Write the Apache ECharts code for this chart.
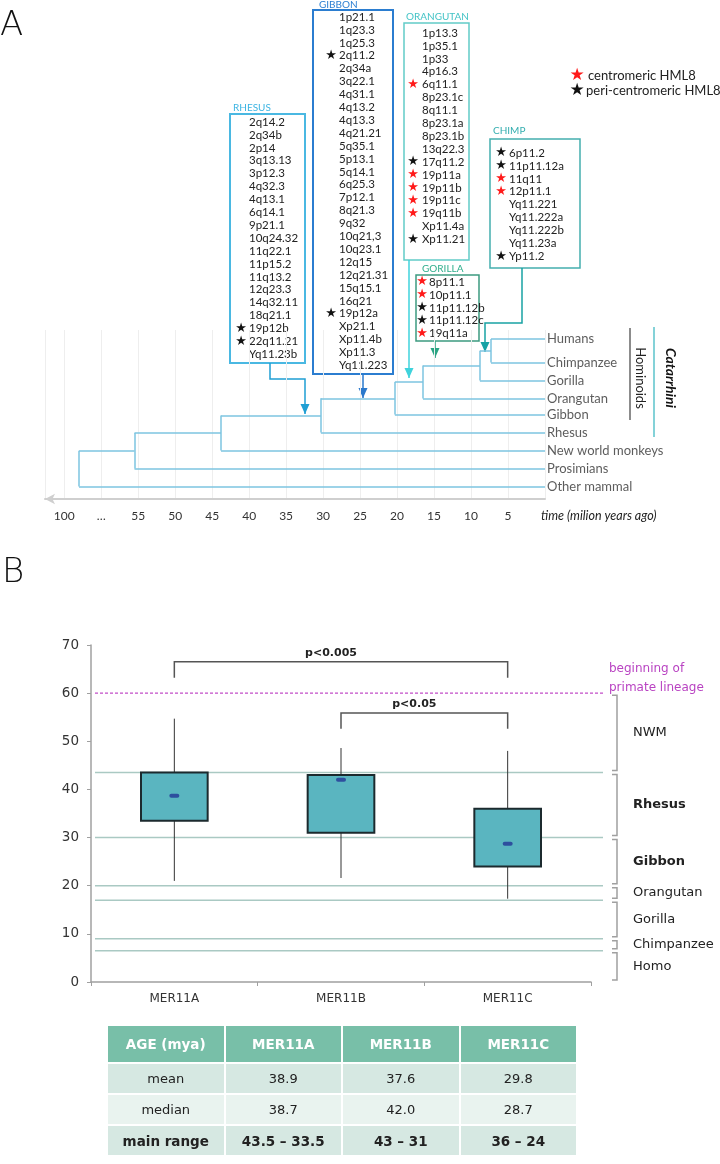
<!DOCTYPE html>
<html>
<head>
<meta charset="utf-8">
<title>HML8 insertion age</title>
<script src="https://cdn.jsdelivr.net/npm/echarts@6/dist/echarts.min.js"></script>
<style>
body{margin:0;background:#fff;}
#wrap{position:relative;width:720px;height:1164px;}
#chart{width:720px;height:1164px;}
table{
position:absolute;left:106px;top:1024px;width:472px;
border-collapse:collapse;table-layout:fixed;
font-family:"DejaVu Sans",sans-serif;font-size:13px;color:#222;
}
td,th{border:2px solid #fff;text-align:center;padding:0;}
th{background:#78bfa8;color:#fff;height:36px;font-weight:bold;font-size:13.5px;}
tr.a td{background:#d6e8e2;height:29px;}
tr.b td{background:#e9f3ef;height:29px;}
tr.bold td{font-weight:bold;font-size:13.5px;}
</style>
</head>
<body>
<div id="wrap">
<div id="chart"></div>
<table id="ages"></table>
</div>
<script>

// panel A: tree
const leaves=['Humans','Chimpanzee','Gorilla','Orangutan','Gibbon','Rhesus','New world monkeys','Prosimians','Other mammal']
const leafRow=[0.5,1.8,2.8,3.8,4.7,5.7,6.7,7.7,8.7]
const joinTime=[7.3,8.8,16.5,20.3,30.3,43.8,55.5,63]
const timeLabels={60:'…',65:'100'}

const lociRhesus=['2q14.2','2q34b','2p14','3q13.13','3p12.3','4q32.3','4q13.1','6q14.1','9p21.1','10q24.32','11q22.1','11p15.2','11q13.2','12q23.3','14q32.11','18q21.1','19p12b','22q11.21','Yq11.23b']
const lociGibbon=['1p21.1','1q23.3','1q25.3','2q11.2','2q34a','3q22.1','4q31.1','4q13.2','4q13.3','4q21.21','5q35.1','5p13.1','5q14.1','6q25.3','7p12.1','8q21.3','9q32','10q21,3','10q23.1','12q15','12q21.31','15q15.1','16q21','19p12a','Xp21.1','Xp11.4b','Xp11.3','Yq11.223']
const lociOrangutan=['1p13.3','1p35.1','1p33','4p16.3','6q11.1','8p23.1c','8q11.1','8p23.1a','8p23.1b','13q22.3','17q11.2','19p11a','19p11b','19p11c','19q11b','Xp11.4a','Xp11.21']
const lociChimp=['6p11.2','11p11.12a','11q11','12p11.1','Yq11.221','Yq11.222a','Yq11.222b','Yq11.23a','Yp11.2']
const lociGorilla=['8p11.1','10p11.1','11p11.12b','11p11.12c','19q11a']
const redStars=['6q11.1','19p11a','19p11b','19p11c','19q11b','11q11','12p11.1','8p11.1','10p11.1','19q11a']
const blackStars=['2q11.2','19p12a','19p12b','22q11.21','17q11.2','Xp11.21','6p11.2','11p11.12a','Yp11.2','11p11.12b','11p11.12c']

// panel B: box plot
const groups=['MER11A','MER11B','MER11C']
const whiskerLow=[21.0,21.6,17.3]
const boxLow=[33.5,31,24]
const medians=[38.7,42.0,28.7]
const boxHigh=[43.5,43,36]
const whiskerHigh=[54.7,48.6,48.0]
const means=[38.9,37.6,29.8]
const rangeNames=['NWM','Rhesus','Gibbon','Orangutan','Gorilla','Chimpanzee','Homo']
const rangeTop=[60,43.5,30,20,17,9,6.5]
const rangeBottom=[43.5,30,20,17,9,6.5,0]
const boldRanges=['Rhesus','Gibbon']
const primateStart=60
const sigFrom=[0,1]
const sigTo=[2,2]
const sigLeg=[63.2,52.6]
const sigTop=[66.5,55.9]
const sigLabel=['p<0.005','p<0.05']

// tree segments
const segs=[]
let cladeY=leafRow[0]
let prevT=0
segs.push([[0,leafRow[0]],[joinTime[0],leafRow[0]]])
for(let k=0;k<joinTime.length;k++){
const t=joinTime[k],y=leafRow[k+1]
if(k>0)segs.push([[prevT,cladeY],[t,cladeY]])
segs.push([[0,y],[t,y]])
segs.push([[t,cladeY],[t,y]])
prevT=t
cladeY=(cladeY+y)/2
}

const boxes=[
{title:'RHESUS',loci:lociRhesus,color:'#3db5e3',line:'#4ab8e2',lw:2,rect:[230,114,75,249],titleAt:[233,108],textX:249,starX:241,y0:122},
{title:'GIBBON',loci:lociGibbon,color:'#2b7fd2',line:'#2b7dd0',lw:2,rect:[313,10,80,364],titleAt:[319,5],textX:339,starX:331,y0:17},
{title:'ORANGUTAN',loci:lociOrangutan,color:'#43c3c6',line:'#62cbc8',lw:1.5,rect:[404,23,65,237],titleAt:[406,17],textX:422,starX:413,y0:33},
{title:'CHIMP',loci:lociChimp,color:'#35aeb0',line:'#44afae',lw:1.5,rect:[490,139,90,129],titleAt:[493,131],textX:509,starX:501,y0:153},
{title:'GORILLA',loci:lociGorilla,color:'#2fae8c',line:'#3d9a80',lw:1.5,rect:[416,275,63,66],titleAt:[422,269],textX:429,starX:422,y0:282}
]

const arrows=[
{pts:[[270,363],[270,379],[305,379],[305,414]],color:'#1f9fd4'},
{pts:[[363,374],[363,398]],color:'#2a78cc'},
{pts:[[409,260],[409,378]],color:'#3fd3dc'},
{pts:[[435,341],[435,358]],color:'#2aa483'},
{pts:[[522,268],[522,323],[485,323],[485,352]],color:'#18a2a4'}
]

const graphics=[]

function txt(x,y,text,font,fill,align,extra){
const el={type:'text',x:x,y:y,style:{text:text,font:font,fill:fill||'#222',textAlign:align||'left',textVerticalAlign:'middle'}}
return Object.assign(el,extra||{})
}

graphics.push(txt(0,26,'A','200 34px "DejaVu Sans"','#111'))
graphics.push(txt(2,573,'B','200 34px "DejaVu Sans"','#111'))

for(const b of boxes){
graphics.push({type:'rect',shape:{x:b.rect[0],y:b.rect[1],width:b.rect[2],height:b.rect[3]},style:{fill:'transparent',stroke:b.line,lineWidth:b.lw}})
graphics.push(txt(b.titleAt[0],b.titleAt[1],b.title,'10px Lato',b.color))
b.loci.forEach((l,i)=>{
const y=b.y0+i*12.9
graphics.push(txt(b.textX,y,l,'11.5px Lato','#222'))
if(redStars.includes(l))graphics.push(txt(b.starX,y,'★','13px "DejaVu Sans"','#ff1a1a','center'))
if(blackStars.includes(l))graphics.push(txt(b.starX,y,'★','13px "DejaVu Sans"','#111','center'))
})
}

for(const a of arrows){
graphics.push({type:'polyline',shape:{points:a.pts},style:{stroke:a.color,lineWidth:1.5,fill:null}})
const tip=a.pts[a.pts.length-1]
graphics.push({type:'polygon',shape:{points:[[tip[0]-4.5,tip[1]-10],[tip[0]+4.5,tip[1]-10],[tip[0],tip[1]]]},style:{fill:a.color}})
}

graphics.push(txt(577,76,'★','17px "DejaVu Sans"','#ff1a1a','center'))
graphics.push(txt(588,76,'centromeric HML8','13px Lato','#222'))
graphics.push(txt(577,91,'★','17px "DejaVu Sans"','#111','center'))
graphics.push(txt(586,91,'peri-centromeric HML8','13px Lato','#222'))

graphics.push({type:'line',shape:{x1:630,y1:328,x2:630,y2:420},style:{stroke:'#666',lineWidth:1.5}})
graphics.push({type:'line',shape:{x1:654,y1:327,x2:654,y2:437},style:{stroke:'#5bc3cb',lineWidth:1.5}})
graphics.push(txt(640,378,'Hominoids','13px Lato','#222','center',{rotation:-Math.PI/2}))
graphics.push(txt(671,378,'Catarrhini','italic bold 14px Lato','#111','center',{rotation:-Math.PI/2}))
graphics.push(txt(541,516,'time (milion years ago)','italic 12.5px Lato','#222'))

function renderBox(params,api){
const i=api.value(0)
const x=api.coord([i,0])[0]
const half=api.size([1,0])[0]*0.2
const wl=api.coord([i,api.value(1)])[1]
const q1=api.coord([i,api.value(2)])[1]
const md=api.coord([i,api.value(3)])[1]
const q3=api.coord([i,api.value(4)])[1]
const wh=api.coord([i,api.value(5)])[1]
return {type:'group',children:[
{type:'line',shape:{x1:x,y1:wh,x2:x,y2:wl},style:{stroke:'#333',lineWidth:1}},
{type:'rect',shape:{x:x-half,y:q3,width:half*2,height:q1-q3},style:{fill:'#5ab5c0',stroke:'#1c2a2e',lineWidth:2}},
{type:'rect',shape:{x:x-5,y:md-2,width:10,height:4,r:2},style:{fill:'#2e4f9e'}}
]}
}

function renderBoundary(params,api){
const y=api.coord([0,api.value(1)])[1]
const cs=params.coordSys
return {type:'line',shape:{x1:cs.x+4,y1:y,x2:cs.x+cs.width+12,y2:y},style:{stroke:'#aac9c3',lineWidth:1.5}}
}

function renderPrimate(params,api){
const y=api.coord([0,api.value(1)])[1]
const cs=params.coordSys
return {type:'group',children:[
{type:'line',shape:{x1:cs.x+4,y1:y,x2:cs.x+cs.width+14,y2:y},style:{stroke:'#c24dc8',lineWidth:1.2,lineDash:[3,2]}},
{type:'text',x:cs.x+cs.width+18,y:y-14.5,style:{text:'beginning of\nprimate lineage',font:'12px "DejaVu Sans"',fill:'#b943c2',textAlign:'left',textVerticalAlign:'middle',lineHeight:19}}
]}
}

function renderRange(params,api){
const cs=params.coordSys
const xb=cs.x+cs.width+26
const y1=api.coord([0,api.value(1)])[1]+2
const y2=api.coord([0,api.value(2)])[1]-2
const name=rangeNames[params.dataIndex]
return {type:'group',children:[
{type:'polyline',shape:{points:[[xb-5,y1],[xb,y1],[xb,y2],[xb-5,y2]]},style:{stroke:'#a0a0a0',lineWidth:1.5,fill:null}},
{type:'text',x:xb+16,y:(y1+y2)/2,style:{text:name,font:(boldRanges.includes(name)?'bold ':'')+'13px "DejaVu Sans"',fill:'#222',textAlign:'left',textVerticalAlign:'middle'}}
]}
}

function renderSig(params,api){
const a=api.coord([api.value(0),api.value(3)])
const b=api.coord([api.value(1),api.value(3)])
const leg=api.coord([0,api.value(2)])[1]
const mid=(a[0]+b[0])/2-10
return {type:'group',children:[
{type:'polyline',shape:{points:[[a[0],leg],[a[0],a[1]],[b[0],b[1]],[b[0],leg]]},style:{stroke:'#555',lineWidth:1.5,fill:null}},
{type:'text',x:mid,y:a[1]-3,style:{text:sigLabel[params.dataIndex],font:'bold 11px "DejaVu Sans"',fill:'#222',textAlign:'center',textVerticalAlign:'bottom'}}
]}
}

const chart=echarts.init(document.getElementById('chart'))

chart.setOption({
animation:false,
graphic:{elements:graphics},
grid:[
{left:45,right:175,top:330,height:169},
{left:91,right:129,top:645,height:337}
],
xAxis:[
{gridIndex:0,type:'value',min:0,max:67.6,interval:5,inverse:true,position:'bottom',
axisLine:{show:true,onZero:false,symbol:['arrow','none'],symbolSize:[8,10],lineStyle:{color:'#cfcfcf',width:2}},
axisTick:{show:false},
axisLabel:{margin:11,color:'#333',fontFamily:'Lato',fontSize:12,showMinLabel:false,showMaxLabel:false,
formatter:v=>timeLabels[v]||(v===0?'':String(v))},
splitLine:{show:true,lineStyle:{color:'#eeeeee'}}},
{gridIndex:1,type:'category',data:groups,
axisLine:{lineStyle:{color:'#a0a0a0',width:1.5}},
axisTick:{show:true,length:4,lineStyle:{color:'#a0a0a0'}},
axisLabel:{margin:11,color:'#333',fontFamily:'DejaVu Sans',fontSize:12}}
],
yAxis:[
{gridIndex:0,type:'value',min:0,max:9.39,inverse:true,show:false},
{gridIndex:1,type:'value',min:0,max:70,interval:10,
axisLine:{show:true,lineStyle:{color:'#a0a0a0',width:1.5}},
axisTick:{show:true,length:4,lineStyle:{color:'#a0a0a0'}},
axisLabel:{margin:12,color:'#333',fontFamily:'DejaVu Sans',fontSize:13.5},
splitLine:{show:false}}
],
series:[
{type:'lines',coordinateSystem:'cartesian2d',xAxisIndex:0,yAxisIndex:0,silent:true,
lineStyle:{color:'#7cc4e0',width:1.5,opacity:1},
data:segs.map(c=>({coords:c}))},
{type:'scatter',xAxisIndex:0,yAxisIndex:0,symbolSize:0,silent:true,
data:leaves.map((n,i)=>[0,leafRow[i],n]),
label:{show:true,position:'right',distance:2,formatter:p=>p.data[2],color:'#333',fontFamily:'Lato',fontSize:13}},
{type:'custom',xAxisIndex:1,yAxisIndex:1,silent:true,renderItem:renderBoundary,
data:rangeBottom.slice(0,-1).map(v=>[0,v]),encode:{x:0,y:1}},
{type:'custom',xAxisIndex:1,yAxisIndex:1,silent:true,renderItem:renderPrimate,
data:[[0,primateStart]],encode:{x:0,y:1}},
{type:'custom',xAxisIndex:1,yAxisIndex:1,silent:true,renderItem:renderRange,
data:rangeTop.map((t,i)=>[0,t,rangeBottom[i]]),encode:{x:0,y:[1,2]}},
{type:'custom',xAxisIndex:1,yAxisIndex:1,silent:true,renderItem:renderSig,
data:sigFrom.map((f,i)=>[f,sigTo[i],sigLeg[i],sigTop[i]]),encode:{x:[0,1],y:[2,3]}},
{type:'custom',xAxisIndex:1,yAxisIndex:1,silent:true,renderItem:renderBox,
data:groups.map((g,i)=>[i,whiskerLow[i],boxLow[i],medians[i],boxHigh[i],whiskerHigh[i]]),
encode:{x:0,y:[1,2,3,4,5]}}
]
})

// table under panel B
const table=document.getElementById('ages')
let html='<tr><th>AGE (mya)</th>'+groups.map(g=>'<th>'+g+'</th>').join('')+'</tr>'
html+='<tr class="a"><td>mean</td>'+means.map(v=>'<td>'+v.toFixed(1)+'</td>').join('')+'</tr>'
html+='<tr class="b"><td>median</td>'+medians.map(v=>'<td>'+v.toFixed(1)+'</td>').join('')+'</tr>'
html+='<tr class="a bold"><td>main range</td>'+boxHigh.map((h,i)=>'<td>'+h+' – '+boxLow[i]+'</td>').join('')+'</tr>'
table.innerHTML=html

</script>
</body>
</html>
